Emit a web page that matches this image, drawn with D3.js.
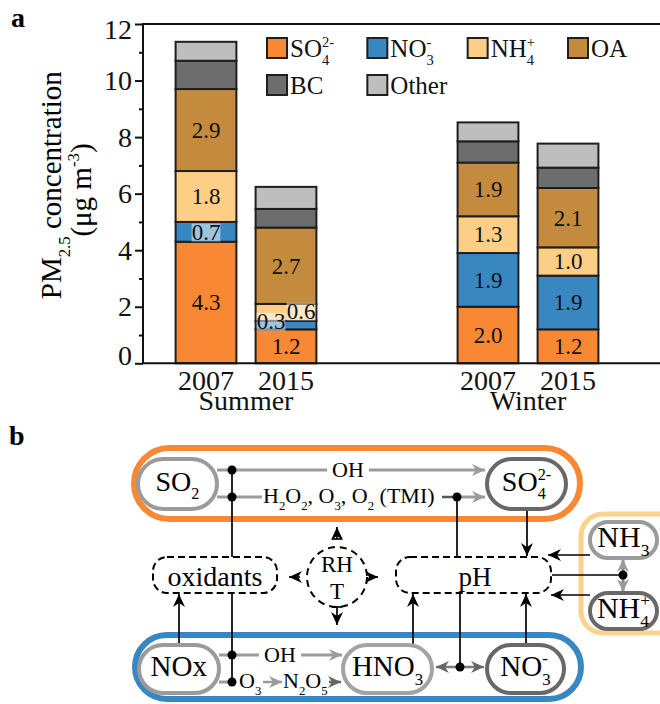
<!DOCTYPE html>
<html>
<head>
<meta charset="utf-8">
<script src="https://cdn.jsdelivr.net/npm/d3@7"></script>
<style>
body { margin: 0; background: #fff; }
svg, svg text { font-family: "Liberation Serif", "Times New Roman", serif; }
</style>
</head>
<body>
<div id="draw"></div>
<script>
// ---- data (panel a) ----
const seasons = ["Summer", "Winter"];
const years = ["2007", "2015"];
const species = ["SO4", "NO3", "NH4", "OA", "BC", "Other"];
const speciesLabels = ["SO_{4}^{2-}", "NO_{3}^{-}", "NH_{4}^{+}", "OA", "BC", "Other"];
// order: Summer 2007, Summer 2015, Winter 2007, Winter 2015
const so4 = [4.3, 1.2, 2.0, 1.2];
const no3 = [0.7, 0.3, 1.9, 1.9];
const nh4 = [1.8, 0.6, 1.3, 1.0];
const oa = [2.9, 2.7, 1.9, 2.1];
const bc = [1.0, 0.66, 0.75, 0.72];
const other = [0.67, 0.78, 0.67, 0.85];
const yTicks = [0, 2, 4, 6, 8, 10, 12];
const yMinorTicks = [1, 3, 5, 7, 9, 11];

const W = 660, H = 704;
const svg = d3.select("#draw").append("svg").attr("width", W).attr("height", H);

// text with sub/superscripts: "SO_{4}^{2-}"  (sub followed by sup are stacked)
function chem(parent, str, x, y, size, anchor = "start") {
    const t = parent.append("text").attr("x", 0).attr("y", y).style("font-size", size + "px");
    const toks = str.split(/(_\{[^}]*\}|\^\{[^}]*\})/).filter(s => s !== "");
    let prevSub = null;
    toks.forEach(tok => {
        if (tok[0] === "_") {
            prevSub = t.append("tspan").attr("y", y + size * 0.3)
                .style("font-size", size * 0.58 + "px").text(tok.slice(2, -1));
        } else if (tok[0] === "^") {
            const sp = t.append("tspan").attr("y", y - size * 0.4)
                .style("font-size", size * 0.58 + "px").text(tok.slice(2, -1));
            if (prevSub) sp.attr("dx", -prevSub.node().getComputedTextLength());
            prevSub = null;
        } else {
            t.append("tspan").attr("y", y).text(tok);
            prevSub = null;
        }
    });
    const bb = t.node().getBBox();
    if (anchor === "middle") t.attr("x", x - bb.width / 2);
    else if (anchor === "end") t.attr("x", x - bb.width);
    else t.attr("x", x);
    return t;
}

// ---- panel a ----
const plot = {left: 143, right: 660, top: 24, bottom: 363.3};
const y = d3.scaleLinear().domain([0, 12]).range([plot.bottom, plot.top]);
const x0 = d3.scalePoint().domain(seasons).range([246, 528]);
const x1 = d3.scaleBand().domain(years).range([-80, 80]).paddingInner(0.24).paddingOuter(0.12);
const color = d3.scaleOrdinal().domain(species)
    .range(["#F88834", "#3887C0", "#FDCE85", "#C48B3E", "#6D6D6D", "#BEBEBE"]);

const rows = [];
seasons.forEach((s, i) => years.forEach((yr, j) => {
    const k = i * 2 + j;
    rows.push({season: s, year: yr, SO4: so4[k], NO3: no3[k], NH4: nh4[k], OA: oa[k], BC: bc[k], Other: other[k]});
}));
const stacked = d3.stack().keys(species)(rows);
const barX = d => x0(d.data.season) + x1(d.data.year);

const ga = svg.append("g");

stacked.forEach(layer => {
    ga.append("g").selectAll("rect").data(layer).join("rect")
        .attr("x", barX)
        .attr("width", x1.bandwidth())
        .attr("y", d => y(d[1]))
        .attr("height", d => y(d[0]) - y(d[1]))
        .attr("fill", color(layer.key))
        .attr("stroke", "#1e1e1e")
        .attr("stroke-width", 2);
});

// value labels for the four ions/OA
const labelSize = 23;
stacked.slice(0, 4).forEach(layer => {
    layer.forEach(d => {
        const v = d[1] - d[0];
        let cx = barX(d) + x1.bandwidth() / 2;
        let by = y((d[0] + d[1]) / 2) + labelSize * 0.34;
        // the two thin summer-2015 layers are pushed apart
        if (d.data.season === "Summer" && d.data.year === "2015" && v < 1) {
            if (layer.key === "NO3") { cx -= 15; by -= 4; }
            if (layer.key === "NH4") { cx += 15; by -= 1.5; }
        }
        const t = ga.append("text").attr("x", cx).attr("y", by)
            .attr("text-anchor", "middle").style("font-size", labelSize + "px")
            .attr("fill", "#111").text(v.toFixed(1));
        if (v < 1) {
            const bb = t.node().getBBox();
            ga.insert("rect", () => t.node())
                .attr("x", bb.x).attr("width", bb.width)
                .attr("y", by - labelSize * 0.7).attr("height", labelSize * 0.78)
                .attr("fill", "#fff").attr("fill-opacity", 0.5);
        }
    });
});

// axes
const yAxis = ga.append("g").attr("transform", `translate(${plot.left},0)`)
    .call(d3.axisLeft(y).tickValues(yTicks).tickSize(8).tickPadding(3))
    .attr("font-family", null).attr("font-size", null);
yAxis.select(".domain").remove();
yAxis.selectAll(".tick line").attr("stroke", "#111").attr("stroke-width", 2);
yAxis.selectAll(".tick text").style("font-size", "28px").attr("fill", "#111")
    .attr("dy", v => v === 0 ? "0.04em" : v === 12 ? "0.52em" : "0.32em");
const yMinor = ga.append("g").attr("transform", `translate(${plot.left},0)`)
    .call(d3.axisLeft(y).tickValues(yMinorTicks).tickSize(4).tickFormat(""));
yMinor.select(".domain").remove();
yMinor.selectAll(".tick line").attr("stroke", "#111").attr("stroke-width", 2);

ga.append("path")
    .attr("d", `M${plot.right},${plot.top}H${plot.left}V${plot.bottom}H${plot.right}`)
    .attr("fill", "none").attr("stroke", "#111").attr("stroke-width", 2);

// x labels
seasons.forEach(s => {
    const gx = ga.append("g").attr("transform", `translate(${x0(s)},${plot.bottom})`)
        .call(d3.axisBottom(x1).tickSize(0).tickPadding(0))
        .attr("font-family", null).attr("font-size", null);
    gx.select(".domain").remove();
    gx.selectAll(".tick text").style("font-size", "28px").attr("fill", "#111")
        .attr("dy", null).attr("y", 27);
    ga.append("text").attr("x", x0(s)).attr("y", plot.bottom + 47)
        .attr("text-anchor", "middle").style("font-size", "28px").attr("fill", "#111").text(s);
});

// y title
const yt = ga.append("g").attr("transform", "translate(61,185) rotate(-90)");
chem(yt, "PM_{2.5} concentration", 0, 0, 29, "middle");
const yt2 = ga.append("g").attr("transform", "translate(91,190) rotate(-90)");
chem(yt2, "(μg m^{-3})", 0, 0, 29, "middle");

// legend
const legX = d3.scaleLinear().domain([0, 3]).range([267, 568]);
species.forEach((k, i) => {
    const col = i % 4, row = Math.floor(i / 4);
    const lx = legX(col), ly = 38 + row * 37;
    ga.append("rect").attr("x", lx).attr("y", ly).attr("width", 20).attr("height", 20)
        .attr("fill", color(k)).attr("stroke", "#1e1e1e").attr("stroke-width", 2);
    chem(ga, speciesLabels[i], lx + 23, ly + 19, 25, "start").attr("fill", "#111");
});

svg.append("text").attr("x", 11).attr("y", 27).style("font-size", "28px")
    .style("font-weight", "bold").text("a");
svg.append("text").attr("x", 9).attr("y", 445).style("font-size", "28px")
    .style("font-weight", "bold").text("b");

// ---- panel b (schematic) ----
const gb = svg.append("g");
const defs = svg.append("defs");
[["blk", "#000"], ["gry", "#9b9b9b"], ["dgy", "#666"]].forEach(([id, c]) => {
    defs.append("marker").attr("id", "ah-" + id)
        .attr("viewBox", "-14 -7 16 14").attr("refX", 0).attr("refY", 0)
        .attr("markerWidth", 16).attr("markerHeight", 14)
        .attr("markerUnits", "userSpaceOnUse").attr("orient", "auto-start-reverse")
        .append("path").attr("d", "M0,0 L-13,-6 L-9,0 L-13,6 Z").attr("fill", c);
});

function seg(x1, y1, x2, y2, c, w, endMk, startMk) {
    const l = gb.append("line").attr("x1", x1).attr("y1", y1).attr("x2", x2).attr("y2", y2)
        .attr("stroke", c).attr("stroke-width", w);
    if (endMk) l.attr("marker-end", `url(#ah-${endMk})`);
    if (startMk) l.attr("marker-start", `url(#ah-${startMk})`);
    return l;
}
function dot(x, yy) {
    gb.append("circle").attr("cx", x).attr("cy", yy).attr("r", 4.5).attr("fill", "#000");
}
function box(x, yy, w, h, rx, c, sw, dash) {
    const r = gb.append("rect").attr("x", x).attr("y", yy).attr("width", w).attr("height", h)
        .attr("rx", rx).attr("fill", "none").attr("stroke", c).attr("stroke-width", sw);
    if (dash) r.attr("stroke-dasharray", dash);
    return r;
}

// group outlines
box(134, 448, 446, 71, 35.5, "#F88834", 6);
box(135, 635, 446, 64, 32, "#3887C0", 6);
box(581, 514, 120, 119, 22, "#FCD28C", 5);

const pills = [
    {label: "SO_{2}", x: 138, y: 459, w: 79, h: 50, c: "#9b9b9b", fs: 28},
    {label: "SO_{4}^{2-}", x: 487, y: 459, w: 79, h: 50, c: "#686868", fs: 28},
    {label: "NH_{3}", x: 590, y: 522, w: 67, h: 36, c: "#9b9b9b", fs: 30},
    {label: "NH_{4}^{+}", x: 590, y: 593, w: 67, h: 36, c: "#686868", fs: 30},
    {label: "NOx", x: 139, y: 645, w: 80, h: 48, c: "#9b9b9b", fs: 29},
    {label: "HNO_{3}", x: 343, y: 645, w: 89, h: 48, c: "#a3a3a3", fs: 29},
    {label: "NO_{3}^{-}", x: 487, y: 645, w: 77, h: 48, c: "#686868", fs: 29}
];

// SO2 -> SO4 pathways
seg(217, 470, 485, 470, "#9b9b9b", 3, "gry");
seg(217, 497, 262, 497, "#9b9b9b", 3);
seg(442, 497, 457, 497, "#555", 2.5);
seg(457, 497, 485, 497, "#9b9b9b", 3, "gry");
{
    const t = chem(gb, "OH", 348, 477, 22, "middle");
    const bb = t.node().getBBox();
    gb.insert("rect", () => t.node()).attr("x", bb.x - 5).attr("y", 460)
        .attr("width", bb.width + 10).attr("height", 22).attr("fill", "#fff");
}
chem(gb, "H_{2}O_{2}, O_{3}, O_{2} (TMI)", 263, 503, 22, "start");

seg(232, 470, 232, 557, "#000", 1.7);
seg(457, 497, 457, 557, "#000", 1.7);
seg(527, 511, 527, 556, "#000", 1.7, "blk");
dot(232, 470); dot(232, 497); dot(457, 497);

// middle row
box(153, 557, 124, 36, 14, "#000", 2, "7,4");
gb.append("text").attr("x", 215).attr("y", 586).attr("text-anchor", "middle")
    .style("font-size", "28px").text("oxidants");
box(396, 557, 155, 36, 14, "#000", 2, "7,4");
gb.append("text").attr("x", 475).attr("y", 586).attr("text-anchor", "middle")
    .style("font-size", "27px").text("pH");

gb.append("circle").attr("cx", 337).attr("cy", 577).attr("r", 30)
    .attr("fill", "none").attr("stroke", "#000").attr("stroke-width", 2).attr("stroke-dasharray", "7,5");
gb.append("text").attr("x", 337).attr("y", 572).attr("text-anchor", "middle")
    .style("font-size", "23px").text("RH");
gb.append("text").attr("x", 337).attr("y", 599).attr("text-anchor", "middle")
    .style("font-size", "23px").text("T");
seg(300, 577, 289, 577, "#000", 1.7, "blk");
seg(374, 577, 378, 577, "#000", 1.7, "blk");
seg(337, 539, 337, 527, "#000", 1.7, "blk");
seg(332, 539, 342, 539, "#000", 1.7);
seg(337, 607, 337, 625, "#000", 1.7, "blk");
seg(332, 607, 342, 607, "#000", 1.7);

// NH3 / NH4 side
seg(590, 555, 548, 555, "#000", 1.7, "blk");
seg(590, 595, 551, 595, "#000", 1.7, "blk");
seg(623, 575, 552, 575, "#000", 1.7);
seg(623, 559, 623, 592, "#8a8a8a", 3, "gry", "gry");
dot(623, 575);

// NOx -> HNO3 pathways
seg(179, 645, 179, 594, "#000", 1.7, "blk");
seg(232, 593, 232, 682, "#000", 1.7);
seg(219, 655, 342, 655, "#9b9b9b", 3, "gry");
{
    const t = chem(gb, "OH", 280, 662, 22, "middle");
    const bb = t.node().getBBox();
    gb.insert("rect", () => t.node()).attr("x", bb.x - 5).attr("y", 647)
        .attr("width", bb.width + 10).attr("height", 18).attr("fill", "#fff");
}
seg(219, 682, 232, 682, "#9b9b9b", 3);
chem(gb, "O_{3}", 239, 688, 22, "start");
seg(263, 682, 282, 682, "#9b9b9b", 2.5, "gry");
chem(gb, "N_{2}O_{5}", 283, 688, 22, "start");
seg(329, 682, 341, 682, "#666", 2.5, "dgy");
dot(232, 655); dot(232, 682);

seg(413, 645, 413, 594, "#000", 1.7, "blk");
seg(526, 645, 526, 594, "#000", 1.7, "blk");
seg(460, 593, 460, 667, "#000", 1.7);
seg(436, 667, 484, 667, "#7a7a7a", 2.5, "dgy", "dgy");
dot(460, 667);

// pills on top
pills.forEach(p => {
    gb.append("rect").attr("x", p.x).attr("y", p.y).attr("width", p.w).attr("height", p.h)
        .attr("rx", p.h / 2).attr("fill", "#fff").attr("stroke", p.c).attr("stroke-width", 4);
    chem(gb, p.label, p.x + p.w / 2, p.y + p.h / 2 + p.fs * 0.24, p.fs, "middle");
});
</script>
</body>
</html>
